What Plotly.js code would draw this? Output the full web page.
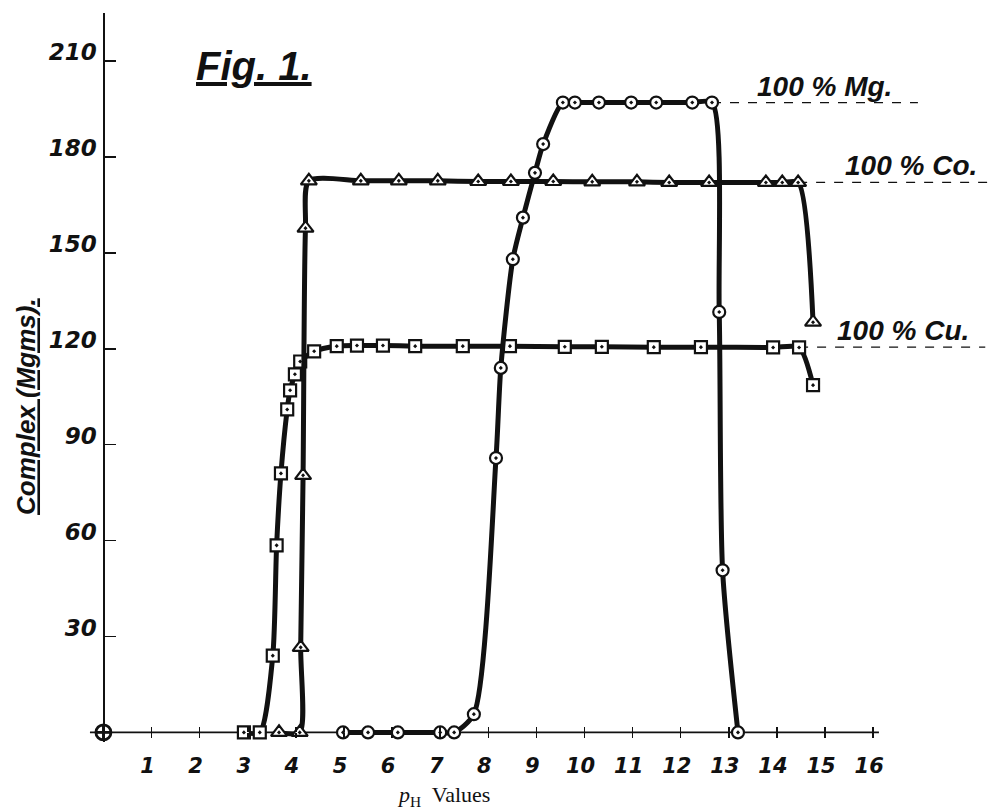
<!DOCTYPE html>
<html>
<head>
<meta charset="utf-8">
<script src="https://cdn.plot.ly/plotly-3.0.1.min.js"></script>
<style>html,body{margin:0;padding:0;background:#fff}#chart{width:992px;height:812px}</style>
</head>
<body>
<div id="chart"></div>
<script>
// ---- data ----
const cuX = [2.92, 3.25, 3.52, 3.60, 3.69, 3.82, 3.88, 3.98, 4.09, 4.38, 4.85, 5.27, 5.81, 6.48, 7.47, 8.45, 9.59, 10.36, 11.44, 12.42, 13.92, 14.46, 14.75];
const cuY = [0, 0, 24, 58.5, 81, 101, 107, 112, 116, 119.2, 120.8, 121, 121, 120.8, 120.8, 120.8, 120.6, 120.6, 120.5, 120.5, 120.4, 120.4, 108.6];

const coX = [3.65, 4.08, 4.10, 4.15, 4.20, 4.27, 5.35, 6.14, 6.95, 7.79, 8.47, 9.35, 10.16, 11.09, 11.76, 12.59, 13.77, 14.11, 14.44, 14.75];
const coY = [0, 0, 26.6, 80.4, 157.7, 172.5, 172.5, 172.5, 172.5, 172.3, 172.3, 172.3, 172.2, 172.2, 172, 172, 172, 172, 172, 128.3];

const mgX = [4.98, 5.50, 6.12, 7.00, 7.29, 7.70, 8.16, 8.26, 8.51, 8.72, 8.97, 9.14, 9.55, 9.80, 10.30, 10.97, 11.49, 12.24, 12.65, 12.80, 12.87, 13.19];
const mgY = [0, 0, 0, 0, 0, 5.7, 85.8, 114, 148, 161, 175, 184, 197, 197, 197, 197, 197, 197, 197, 131.5, 50.7, 0];

const xTicks = [1, 2, 3, 4, 5, 6, 7, 8, 9, 10, 11, 12, 13, 14, 15, 16];
const yTicks = [30, 60, 90, 120, 150, 180, 210];

const seriesLabels = ['100 % Mg.', '100 % Co.', '100 % Cu.'];
const plateauMg = 197, plateauCo = 172, plateauCu = 120.5;
const leaderStartX = [12.65, 14.44, 14.46];
const leaderEndX = [16.93, 18.43, 18.33];

// ---- layout helpers ----
const xRange = [-0.3, 18.47];
const yRange = [-3, 225];
const tickFont = {family: 'DejaVu Sans', weight: 'bold', style: 'italic', color: '#111'};
const handFont = {family: 'Liberation Sans', weight: 'bold', style: 'italic', color: '#111'};

function curve(x, y, symbol, size) {
  return {
    x: x, y: y, type: 'scatter', mode: 'lines+markers',
    line: {color: '#111', width: 5, shape: 'spline', smoothing: 0.7},
    marker: {symbol: symbol, size: size, color: '#fff', line: {color: '#111', width: 2.2}},
    cliponaxis: false, showlegend: false, hoverinfo: 'skip'
  };
}

const traces = [
  curve(cuX, cuY, 'square-dot', 12),
  curve(coX, coY, 'triangle-up-dot', 14),
  curve(mgX, mgY, 'circle-dot', 12),
  {x: [0], y: [0], type: 'scatter', mode: 'markers', cliponaxis: false,
   marker: {symbol: 'circle-cross-open', size: 15, color: '#111', line: {width: 2.8}},
   showlegend: false, hoverinfo: 'skip'},
  {x: [null], y: [null], xaxis: 'x2', yaxis: 'y', type: 'scatter', mode: 'markers', showlegend: false, hoverinfo: 'skip'}
];

const levels = [plateauMg, plateauCo, plateauCu];
const labelX = [13.55, 15.37, 15.2];

const shapes = [
  {type: 'line', xref: 'x', yref: 'y', x0: -0.28, x1: 16.12, y0: 0, y1: 0,
   line: {color: '#111', width: 1.7}, layer: 'below'}
];
levels.forEach((lv, i) => {
  shapes.push({type: 'line', xref: 'x', yref: 'y', x0: leaderStartX[i], x1: leaderEndX[i], y0: lv, y1: lv,
    line: {color: '#111', width: 1.3, dash: 'dash'}, layer: 'below'});
});

const annotations = levels.map((lv, i) => ({
  text: seriesLabels[i], xref: 'x', yref: 'y', x: labelX[i], y: lv,
  xanchor: 'left', yanchor: 'bottom', yshift: -1, showarrow: false,
  font: Object.assign({size: 28}, handFont)
}));
annotations.push({
  text: '<u>Fig. 1.</u>', xref: 'x', yref: 'y', x: 3.13, y: 208.5,
  xanchor: 'center', yanchor: 'middle', showarrow: false,
  font: Object.assign({size: 40}, handFont)
});
annotations.push({
  text: '<u>Complex (Mgms).</u>', xref: 'paper', yref: 'y', x: -0.069, y: 102,
  xanchor: 'center', yanchor: 'middle', textangle: -90, showarrow: false,
  font: Object.assign({size: 26}, handFont)
});
annotations.push({
  text: '<i>p</i><sub>H</sub>  Values', xref: 'x', yref: 'paper', x: 7.06, y: -0.074,
  xanchor: 'center', yanchor: 'middle', showarrow: false,
  font: {family: 'Liberation Serif', size: 22, color: '#111'}
});

const layout = {
  width: 992, height: 812,
  margin: {l: 89, r: 0, t: 13, b: 70, pad: 0},
  paper_bgcolor: '#fff', plot_bgcolor: '#fff',
  showlegend: false,
  xaxis: {
    range: xRange, anchor: 'free', position: (0 - yRange[0]) / (yRange[1] - yRange[0]),
    tickmode: 'array', tickvals: xTicks, ticktext: xTicks.map(String),
    ticks: 'outside', ticklen: 5, tickwidth: 1.5, tickcolor: '#111',
    ticklabelstandoff: 9, ticklabelshift: -4,
    tickfont: Object.assign({size: 21}, tickFont),
    showline: false, showgrid: false, zeroline: false, fixedrange: true
  },
  xaxis2: {
    range: xRange, overlaying: 'x', anchor: 'free', position: (0 - yRange[0]) / (yRange[1] - yRange[0]),
    tickmode: 'array', tickvals: xTicks, showticklabels: false,
    ticks: 'inside', ticklen: 5, tickwidth: 1.5, tickcolor: '#111',
    showline: false, showgrid: false, zeroline: false, fixedrange: true
  },
  yaxis: {
    range: yRange, anchor: 'free', position: (0 - xRange[0]) / (xRange[1] - xRange[0]),
    tickmode: 'array', tickvals: yTicks, ticktext: yTicks.map(String),
    ticks: 'inside', ticklen: 11, tickwidth: 1.6, tickcolor: '#111',
    ticklabelshift: -9, ticklabelstandoff: 2,
    tickfont: Object.assign({size: 23}, tickFont),
    showline: true, linecolor: '#111', linewidth: 1.8,
    showgrid: false, zeroline: false, fixedrange: true
  },
  shapes: shapes,
  annotations: annotations
};

Plotly.newPlot('chart', traces, layout, {displayModeBar: false, staticPlot: true});
</script>
</body>
</html>
